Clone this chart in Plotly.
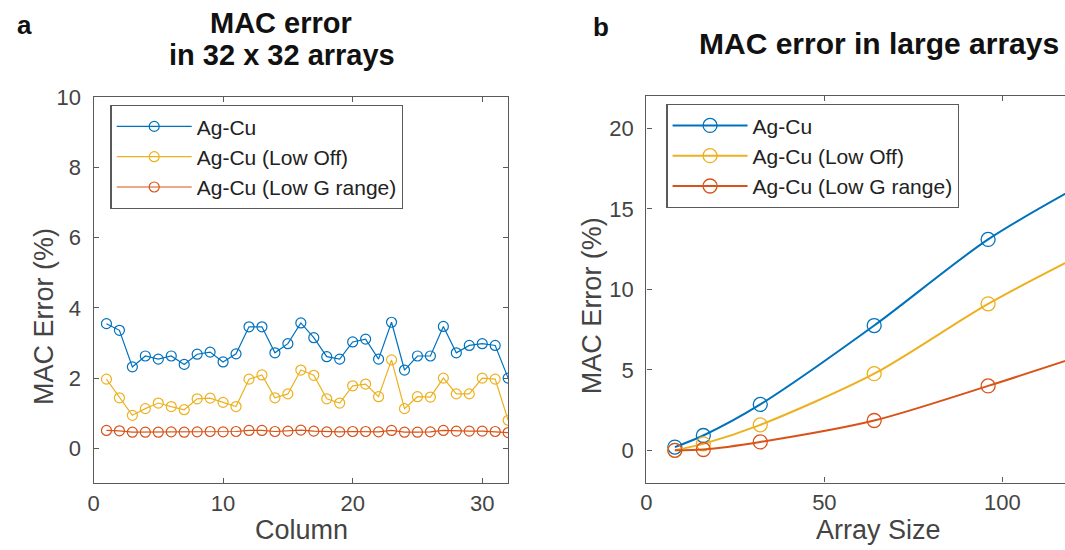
import plotly.graph_objects as go

# ---------------- data ----------------
columns = list(range(1, 33))
agcu_a = [3.55, 3.36, 2.32, 2.63, 2.54, 2.63, 2.39, 2.68, 2.74, 2.46, 2.69, 3.46, 3.46, 2.72, 2.98, 3.57,
          3.15, 2.61, 2.54, 3.03, 3.11, 2.54, 3.59, 2.23, 2.63, 2.63, 3.47, 2.72, 2.93, 2.98, 2.93, 2.00]
lowoff_a = [1.97, 1.44, 0.94, 1.13, 1.29, 1.19, 1.10, 1.41, 1.43, 1.31, 1.19, 1.97, 2.09, 1.44, 1.55, 2.23,
            2.08, 1.41, 1.29, 1.78, 1.83, 1.47, 2.52, 1.13, 1.47, 1.46, 2.00, 1.55, 1.55, 2.00, 1.97, 0.80]
lowg_a = [0.51, 0.50, 0.46, 0.46, 0.46, 0.47, 0.46, 0.47, 0.48, 0.47, 0.48, 0.51, 0.51, 0.48, 0.49, 0.52,
          0.49, 0.47, 0.47, 0.48, 0.48, 0.47, 0.51, 0.46, 0.46, 0.47, 0.51, 0.49, 0.49, 0.49, 0.48, 0.45]

array_size = [8, 16, 32, 64, 96, 128]
agcu_b = [0.20, 0.92, 2.85, 7.75, 13.1, 17.2]
lowoff_b = [0.00, 0.40, 1.58, 4.76, 9.10, 12.8]
lowg_b = [0.00, 0.05, 0.52, 1.85, 4.00, 6.30]

names = ["Ag-Cu", "Ag-Cu (Low Off)", "Ag-Cu (Low G range)"]
colors = ["#0072BD", "#EDB120", "#D95319"]

W, H = 1065, 550
FONT = "Liberation Sans, Arial, Helvetica, sans-serif"
AX = "#5a5a5a"
TXT = "#444444"

def px_x(p):
    return p / W

def px_y(p):
    return 1 - p / H

fig = go.Figure()

for name, ys, c in zip(names, [agcu_a, lowoff_a, lowg_a], colors):
    fig.add_trace(go.Scatter(
        x=columns, y=ys, name=name, mode="lines+markers",
        line=dict(color=c, width=1.2),
        marker=dict(symbol="circle-open", size=10, color=c, line=dict(width=1.2)),
        xaxis="x", yaxis="y", legend="legend"))

for name, ys, c in zip(names, [agcu_b, lowoff_b, lowg_b], colors):
    fig.add_trace(go.Scatter(
        x=array_size, y=ys, name=name, mode="lines+markers",
        line=dict(color=c, width=2, shape="spline", smoothing=0.8),
        marker=dict(symbol="circle-open", size=14, color=c, line=dict(width=1.3)),
        xaxis="x2", yaxis="y2", legend="legend2", cliponaxis=True))

axis_common = dict(
    showgrid=False, zeroline=False, showline=True, linecolor=AX, linewidth=1.3,
    ticks="inside", ticklen=5, tickcolor=AX, tickwidth=1,
    tickfont=dict(family=FONT, size=22, color=TXT),
)

legend_common = dict(xanchor="left", yanchor="top",
                     bgcolor="white", bordercolor=AX, borderwidth=1.3,
                     font=dict(family=FONT, size=21, color="#222222"),
                     itemwidth=75, tracegroupgap=0)

fig.update_layout(
    width=W, height=H, margin=dict(l=0, r=0, t=0, b=0),
    paper_bgcolor="white", plot_bgcolor="white",
    font=dict(family=FONT, color=TXT),
    xaxis=dict(domain=[px_x(88), px_x(505)], range=[0, 32], tickvals=[0, 10, 20, 30],
               anchor="y", mirror="ticks", ticklabelstandoff=0, **axis_common),
    yaxis=dict(domain=[px_y(482), px_y(87)], range=[-1, 10], tickvals=[0, 2, 4, 6, 8, 10],
               anchor="x", mirror="ticks", ticklabelstandoff=7, **axis_common),
    xaxis2=dict(domain=[px_x(644), 1.0], range=[0, 117.6], tickvals=[0, 50, 100],
                anchor="y2", mirror="ticks", ticklabelstandoff=0, **axis_common),
    yaxis2=dict(domain=[px_y(481), px_y(86)], range=[-2, 22], tickvals=[0, 5, 10, 15, 20],
                anchor="x2", mirror=False, ticklabelstandoff=7, **axis_common),
    legend=dict(x=px_x(105), y=px_y(95), **legend_common),
    legend2=dict(x=px_x(664), y=px_y(94), **legend_common),
    showlegend=True,
)

def ann(text, x, y, size, bold=False, angle=0, color="#111111", xanchor="center"):
    fig.add_annotation(text=f"<b>{text}</b>" if bold else text,
                       x=px_x(x), y=px_y(y), xref="paper", yref="paper",
                       xanchor=xanchor, yanchor="middle", showarrow=False,
                       textangle=angle, font=dict(family=FONT, size=size, color=color))

ann("MAC error", 277, 11, 29, bold=True)
ann("in 32 x 32 arrays", 278, 44, 29, bold=True)
ann("MAC error in large arrays", 878, 32, 30, bold=True)
ann("a", 19, 13, 26, bold=True)
ann("b", 598, 15, 26, bold=True)
ann("Column", 297, 530, 27, color=TXT)
ann("Array Size", 877, 530, 27, color=TXT)
ann("MAC Error (%)", 38, 311, 27, angle=-90, color=TXT)
ann("MAC Error (%)", 590, 300, 27, angle=-90, color=TXT)

fig.write_html("out.html")
